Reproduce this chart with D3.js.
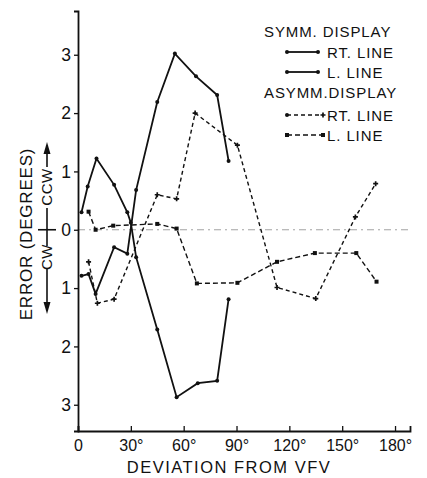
<!DOCTYPE html>
<html>
<head>
<meta charset="utf-8">
<script src="https://cdn.jsdelivr.net/npm/d3@7"></script>
<style>
    body { margin: 0; background: #fff; }
    text { font-family: "Liberation Sans", "DejaVu Sans", sans-serif; fill: #111; }
</style>
</head>
<body>
<div class="viz"></div>
<script>
// deviation (deg) vs error (deg), + = CCW, - = CW
const symmRtX = [2, 5.5, 10.5, 20.5, 28, 30, 33, 45, 56, 68, 79, 85.5];
const symmRtY = [0.30, 0.74, 1.22, 0.77, 0.30, 0.12, -0.47, -1.71, -2.87, -2.63, -2.59, -1.19];
const symmLX = [2, 6, 10, 20.5, 28, 33, 45, 55, 67, 79, 85.5];
const symmLY = [-0.79, -0.76, -1.10, -0.30, -0.41, 0.68, 2.19, 3.02, 2.63, 2.31, 1.18];
const asymmRtX = [6, 11, 20.5, 45, 56, 66.5, 90.5, 113, 135, 157.5, 169];
const asymmRtY = [-0.55, -1.26, -1.19, 0.60, 0.53, 2.0, 1.45, -0.99, -1.18, 0.22, 0.79];
const asymmLX = [6, 10, 20, 45, 56, 67.5, 90.5, 113, 134.5, 158, 169.5];
const asymmLY = [0.31, 0.0, 0.07, 0.10, 0.02, -0.92, -0.91, -0.55, -0.40, -0.40, -0.89];

const xTicks = [0, 30, 60, 90, 120, 150, 180];
const yTicks = [-3, -2, -1, 0, 1, 2, 3];

const w = 427;
const h = 478;
const svg = d3.select('.viz').append('svg')
    .attr('width', w)
    .attr('height', h);

const x = d3.scaleLinear().domain([0, 188.5]).range([78, 410]);
const y = d3.scaleLinear().domain([-3.45, 3.75]).range([431, 11]);

// zero reference line
svg.append('line')
    .attr('x1', x(0)).attr('x2', x(188.5))
    .attr('y1', y(0)).attr('y2', y(0))
    .attr('stroke', '#999')
    .attr('stroke-width', 0.9)
    .attr('stroke-dasharray', '7,4,2,4');

const xAxis = svg.append('g')
    .attr('transform', `translate(0,${y(-3.45)})`)
    .call(d3.axisBottom(x).tickValues(xTicks).tickSize(-5).tickPadding(6)
        .tickFormat(d => d === 0 ? '0' : d + '°'));
const yAxis = svg.append('g')
    .attr('transform', `translate(${x(0)},0)`)
    .call(d3.axisLeft(y).tickValues(yTicks).tickSize(4).tickPadding(3)
        .tickFormat(d => Math.abs(d)));

[xAxis, yAxis].forEach(a => {
    a.select('.domain').attr('stroke', '#111').attr('stroke-width', 1.8);
    a.selectAll('.tick line').attr('stroke', '#111').attr('stroke-width', 1.3);
    a.selectAll('text').attr('fill', '#111').style('font-family', '"Liberation Sans", sans-serif');
});
xAxis.selectAll('text').attr('font-size', 16).attr('dy', '0.9em');
yAxis.selectAll('text').attr('font-size', 17.5);

const line = d3.line().x(d => x(d[0])).y(d => y(d[1]));
const zip = (xs, ys) => xs.map((v, i) => [v, ys[i]]);

const series = [
    { pts: zip(symmRtX, symmRtY), dash: null, width: 1.8, mark: 'dot' },
    { pts: zip(symmLX, symmLY), dash: null, width: 1.8, mark: 'dot' },
    { pts: zip(asymmRtX, asymmRtY), dash: '4,3', width: 1.4, mark: 'cross' },
    { pts: zip(asymmLX, asymmLY), dash: '5,3', width: 1.4, mark: 'square' }
];

const drawMark = (g, type, px, py) => {
    if (type === 'dot') {
        g.append('circle').attr('cx', px).attr('cy', py).attr('r', 2).attr('fill', '#111');
    } else if (type === 'square') {
        g.append('rect').attr('x', px - 2).attr('y', py - 2).attr('width', 4).attr('height', 4).attr('fill', '#111');
    } else {
        g.append('path')
            .attr('d', d3.symbol().type(d3.symbolCross).size(14)())
            .attr('transform', `translate(${px},${py})`)
            .attr('fill', '#111');
    }
};

series.forEach(s => {
    svg.append('path')
        .attr('d', line(s.pts))
        .attr('fill', 'none')
        .attr('stroke', '#111')
        .attr('stroke-width', s.width)
        .attr('stroke-dasharray', s.dash);
    const g = svg.append('g');
    s.pts.forEach(p => drawMark(g, s.mark, x(p[0]), y(p[1])));
});

// legend
const lg = svg.append('g').attr('font-size', 15).attr('letter-spacing', 0.9);
lg.append('text').attr('x', 264).attr('y', 37).text('SYMM. DISPLAY');
lg.append('text').attr('x', 264).attr('y', 98).text('ASYMM.DISPLAY');
const legendRows = [
    { y: 52, label: 'RT. LINE', s: series[0], x1: 287, x2: 318 },
    { y: 72, label: 'L. LINE', s: series[1], x1: 287, x2: 318 },
    { y: 115, label: 'RT. LINE', s: series[2], x1: 287, x2: 323 },
    { y: 135, label: 'L. LINE', s: series[3], x1: 287, x2: 323 }
];
legendRows.forEach(r => {
    lg.append('line')
        .attr('x1', r.x1).attr('x2', r.x2)
        .attr('y1', r.y).attr('y2', r.y)
        .attr('stroke', '#111')
        .attr('stroke-width', r.s.width)
        .attr('stroke-dasharray', r.s.dash);
    drawMark(lg, r.s.mark === 'cross' ? 'dot' : r.s.mark, r.x1, r.y);
    drawMark(lg, r.s.mark, r.x2, r.y);
    lg.append('text').attr('x', 327).attr('y', r.y + 5.5).text(r.label);
});

// axis titles
svg.append('text')
    .attr('x', 229).attr('y', 473)
    .attr('text-anchor', 'middle')
    .attr('font-size', 16.5)
    .attr('letter-spacing', 1.5)
    .text('DEVIATION FROM VFV');

svg.append('text')
    .attr('transform', 'translate(32,234) rotate(-90)')
    .attr('text-anchor', 'middle')
    .attr('font-size', 17)
    .attr('letter-spacing', 0.8)
    .text('ERROR  (DEGREES)');

// CW / CCW direction marker
const cx = 47;
const dir = svg.append('g').attr('stroke', '#111').attr('stroke-width', 1.6);
dir.append('line').attr('x1', cx).attr('x2', cx).attr('y1', 150).attr('y2', 167);
dir.append('line').attr('x1', cx).attr('x2', cx).attr('y1', 208).attr('y2', 246);
dir.append('line').attr('x1', cx).attr('x2', cx).attr('y1', 268).attr('y2', 306);
dir.append('line').attr('x1', 38).attr('x2', 56).attr('y1', y(0)).attr('y2', y(0));
svg.append('path').attr('d', `M${cx},142 L${cx - 3.5},154 L${cx + 3.5},154 Z`).attr('fill', '#111');
svg.append('path').attr('d', `M${cx},314 L${cx - 3.5},302 L${cx + 3.5},302 Z`).attr('fill', '#111');
svg.append('text')
    .attr('transform', `translate(${cx + 5},187) rotate(-90)`)
    .attr('text-anchor', 'middle').attr('font-size', 15).attr('letter-spacing', 0.5)
    .text('CCW');
svg.append('text')
    .attr('transform', `translate(${cx + 5},257) rotate(-90)`)
    .attr('text-anchor', 'middle').attr('font-size', 15).attr('letter-spacing', 0.5)
    .text('CW');
</script>
</body>
</html>
